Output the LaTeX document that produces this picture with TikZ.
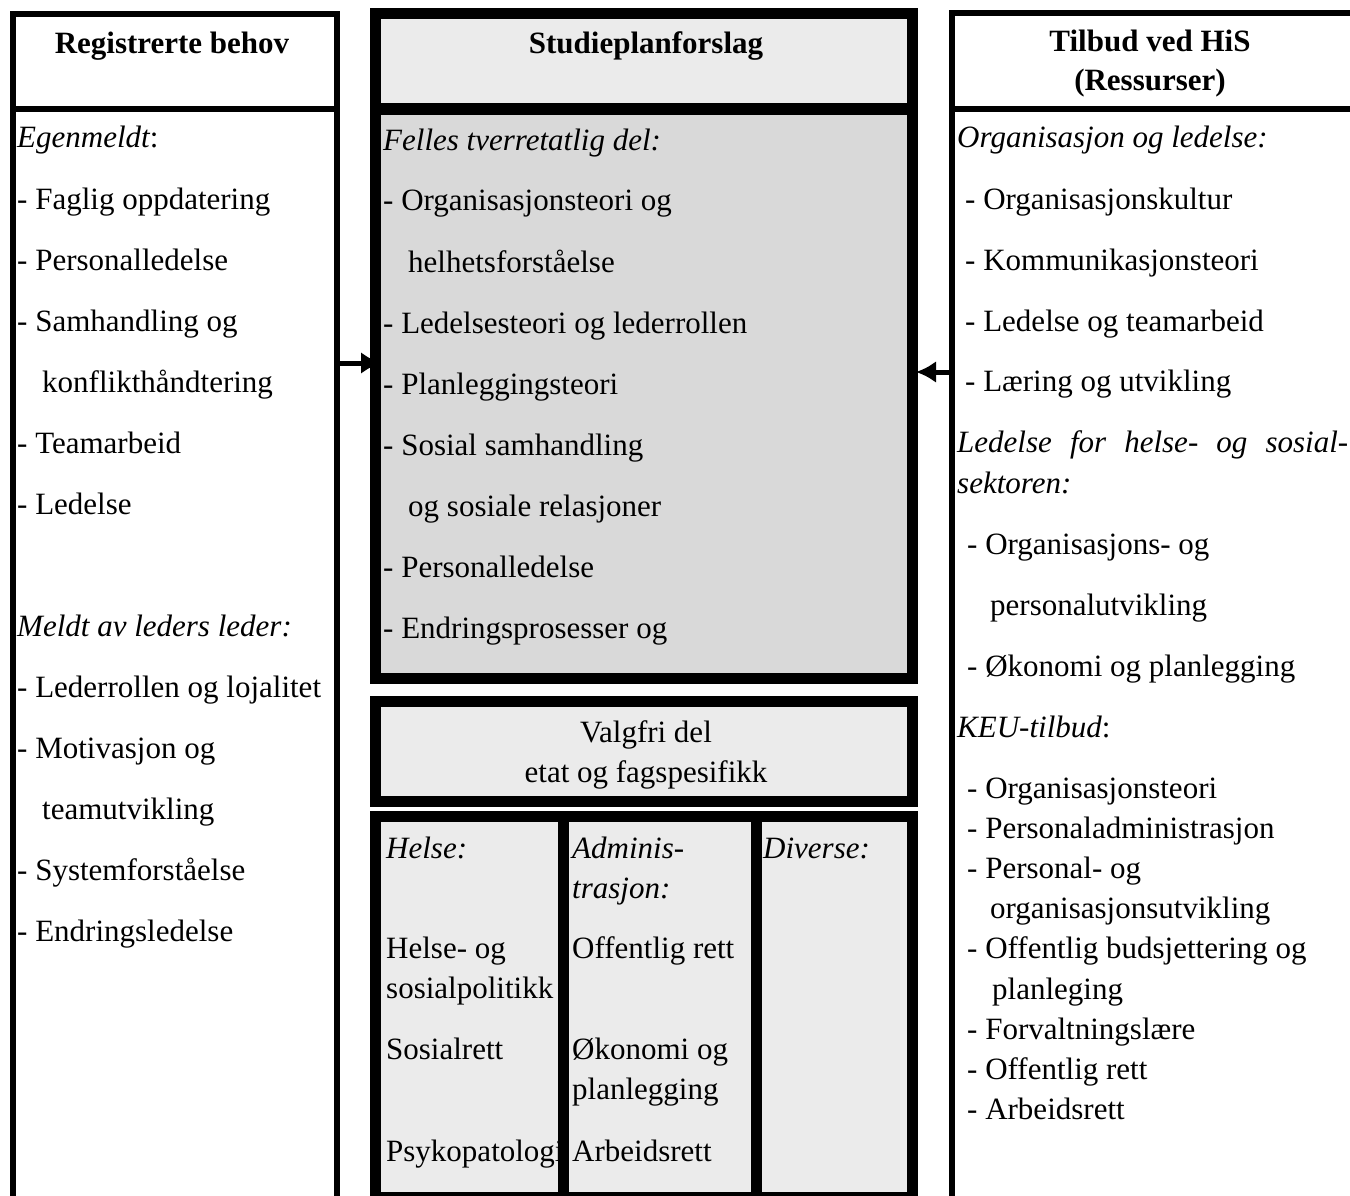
\documentclass[tikz,border=0pt]{standalone}
\usepackage{fontspec}
\setmainfont{Liberation Serif}
\usetikzlibrary{arrows.meta}

\definecolor{lysgraa}{gray}{0.92}
\definecolor{morkgraa}{gray}{0.85}

\tikzset{
  tekst/.style={anchor=base west, inner sep=0pt, font=\fontsize{31}{37}\selectfont},
  midttekst/.style={anchor=base, inner sep=0pt, font=\fontsize{31}{37}\selectfont},
  tittel/.style={anchor=base, inner sep=0pt, font=\fontsize{31}{37}\selectfont\bfseries},
  tynnramme/.style={line width=6pt},
  tykkramme/.style={line width=11pt},
  pil/.style={line width=5pt, -{Latex[length=20pt,width=22pt]}}
}

\begin{document}
\begin{tikzpicture}[x=1pt,y=-1pt]
        \useasboundingbox (0,0) rectangle (1350,1196);
        \clip (0,0) rectangle (1350,1196);

        % venstre boks
        \draw[tynnramme] (13,14.5) rectangle (337,1215);
        \draw[tynnramme] (13,109.5) -- (337,109.5);
        % midtre boks, felles del
        \fill[lysgraa] (375.5,14) rectangle (912.5,109);
        \fill[morkgraa] (375.5,109) rectangle (912.5,678);
        \draw[tykkramme] (375.5,14) rectangle (912.5,678);
        \draw[line width=12pt] (375.5,109) -- (912.5,109);
        % valgfri del
        \filldraw[tykkramme, fill=lysgraa] (375.5,701) rectangle (912.5,801);
        % kolonner
        \filldraw[tykkramme, fill=lysgraa] (375.5,816) rectangle (912.5,1197);
        \draw[tykkramme] (563.5,816) -- (563.5,1197);
        \draw[tykkramme] (756.5,816) -- (756.5,1197);
        % hoyre boks
        \draw[tynnramme] (951.5,13) rectangle (1360,1215);
        \draw[tynnramme] (951.5,109) -- (1360,109);

        % piler
        \coordinate (behovH) at (340,363);
        \coordinate (planV) at (381,363);
        \coordinate (tilbudV) at (949,372);
        \coordinate (planH) at (916,372);
        \draw[pil] (behovH) -- (planV);
        \draw[pil] (tilbudV) -- (planH);

        % overskrifter
        \node[tittel] (behov) at (172,54) {Registrerte behov};
        \node[tittel] (plan) at (646,54) {Studieplanforslag};
        \node[tittel] (tilbud) at (1150,52) {Tilbud ved HiS};
        \node[tittel] (ressurs) at (1150,91) {(Ressurser)};

        % registrerte behov
        \node[tekst] (egen) at (17,148) {{\itshape Egenmeldt}:};
        \foreach \x/\y/\t [count=\i] in {17/209/- Faglig oppdatering, 17/270/- Personalledelse,
                17/331/- Samhandling og, 42/392/konflikthåndtering, 17/453/- Teamarbeid, 17/514/- Ledelse}
          \node[tekst] (egen\i) at (\x,\y) {\t};
        \node[tekst] (meldt) at (17,636) {\itshape Meldt av leders leder:};
        \foreach \x/\y/\t [count=\i] in {17/697/- Lederrollen og lojalitet, 17/758/- Motivasjon og,
                42/819/teamutvikling, 17/880/- Systemforståelse, 17/941/- Endringsledelse}
          \node[tekst] (meldt\i) at (\x,\y) {\t};

        % felles tverretatlig del
        \node[tekst] (felles) at (383,150) {\itshape Felles tverretatlig del:};
        \foreach \x/\y/\t [count=\i] in {383/211/- Organisasjonsteori og, 408/272/helhetsforståelse,
                383/333/- Ledelsesteori og lederrollen, 383/394/- Planleggingsteori,
                383/455/- Sosial samhandling, 408/516/og sosiale relasjoner,
                383/577/- Personalledelse, 383/638/- Endringsprosesser og}
          \node[tekst] (felles\i) at (\x,\y) {\t};

        % valgfri del
        \node[midttekst] (valgfri) at (646,742) {Valgfri del};
        \node[midttekst] (etat) at (646,782) {etat og fagspesifikk};

        % helse
        \node[tekst] (helse) at (386,858) {\itshape Helse:};
        \node[tekst] (helse1) at (386,958) {Helse- og};
        \node[tekst] (helse2) at (386,998) {sosialpolitikk};
        \node[tekst] (helse3) at (386,1059) {Sosialrett};
        \node[tekst] (helse4) at (386,1161) {Psykopatologi};
        % administrasjon
        \node[tekst] (adm) at (572,858) {\itshape Adminis-};
        \node[tekst] (adm0) at (572,898) {\itshape trasjon:};
        \node[tekst] (adm1) at (572,958) {Offentlig rett};
        \node[tekst] (adm2) at (572,1059) {Økonomi og};
        \node[tekst] (adm3) at (572,1099) {planlegging};
        \node[tekst] (adm4) at (572,1161) {Arbeidsrett};
        % diverse
        \node[tekst] (diverse) at (763,858) {\itshape Diverse:};

        % tilbud ved HiS
        \node[tekst] (org) at (957,148) {\itshape Organisasjon og ledelse:};
        \foreach \y/\t [count=\i] in {209/- Organisasjonskultur, 270/- Kommunikasjonsteori,
                331/- Ledelse og teamarbeid, 391/- Læring og utvikling}
          \node[tekst] (org\i) at (965,\y) {\t};
        \node[tekst] (helsesos) at (957,452) {\itshape\makebox[391pt][s]{Ledelse for helse- og sosial-}};
        \node[tekst] (sektor) at (957,493) {\itshape sektoren:};
        \foreach \x/\y/\t [count=\i] in {967/554/- Organisasjons- og, 990/615/personalutvikling,
                967/676/- Økonomi og planlegging}
          \node[tekst] (sektor\i) at (\x,\y) {\t};
        \node[tekst] (keu) at (957,737) {{\itshape KEU-tilbud}:};
        \foreach \x/\y/\t [count=\i] in {967/798/- Organisasjonsteori, 967/838/- Personaladministrasjon,
                967/878/- Personal- og, 990/918/organisasjonsutvikling,
                967/958/- Offentlig budsjettering og, 992/999/planleging,
                967/1039/- Forvaltningslære, 967/1079/- Offentlig rett, 967/1119/- Arbeidsrett}
          \node[tekst] (keu\i) at (\x,\y) {\t};
\end{tikzpicture}
\end{document}
